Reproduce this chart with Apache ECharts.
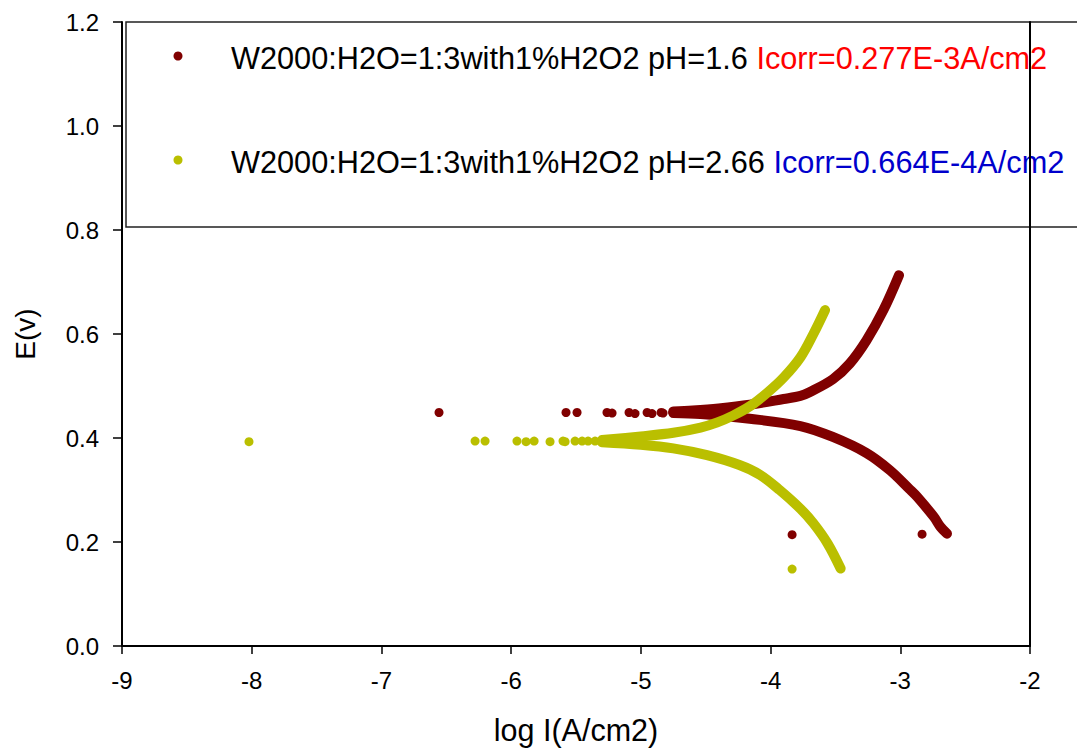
<!DOCTYPE html>
<html>
<head>
<meta charset="utf-8">
<script src="https://cdn.jsdelivr.net/npm/echarts@6/dist/echarts.min.js"></script>
<style>
html,body{margin:0;padding:0;background:#fff;overflow:hidden;}
#chart{width:1077px;height:749px;}
</style>
</head>
<body>
<div id="chart"></div>
<script>
// ---- text ----
const seriesLabels = ['W2000:H2O=1:3with1%H2O2 pH=1.6', 'W2000:H2O=1:3with1%H2O2 pH=2.66'];
const icorrLabels = ['Icorr=0.277E-3A/cm2', 'Icorr=0.664E-4A/cm2'];
const xTitle = 'log I(A/cm2)';
const yTitle = 'E(v)';
const xTicks = [-9, -8, -7, -6, -5, -4, -3, -2];
const yTicks = [0.0, 0.2, 0.4, 0.6, 0.8, 1.0, 1.2];

// ---- pH 1.6 (dark red) ----
const redSparse = [
  [-6.556, 0.449], [-5.577, 0.449], [-5.492, 0.449], [-5.261, 0.449], [-5.222, 0.448],
  [-5.091, 0.449], [-5.045, 0.447], [-4.952, 0.449], [-4.914, 0.447], [-4.844, 0.449],
  [-4.829, 0.448], [-4.752, 0.449], [-4.713, 0.449], [-4.675, 0.449],
  [-3.834, 0.214], [-2.832, 0.215]
];
const redAnodic = [
  [-4.75, 0.451], [-4.6, 0.453], [-4.4, 0.457], [-4.16, 0.464], [-3.9, 0.475],
  [-3.77, 0.481], [-3.7, 0.488], [-3.52, 0.513], [-3.39, 0.543], [-3.26, 0.588],
  [-3.13, 0.646], [-3.01, 0.713]
];
const redCathodic = [
  [-4.75, 0.448], [-4.54, 0.446], [-4.16, 0.437], [-3.77, 0.423], [-3.52, 0.402],
  [-3.26, 0.371], [-3.08, 0.338], [-2.93, 0.302], [-2.87, 0.287], [-2.74, 0.248],
  [-2.69, 0.229], [-2.64, 0.216]
];

// ---- pH 2.66 (yellow-green) ----
const ylwSparse = [
  [-8.021, 0.393], [-6.278, 0.394], [-6.201, 0.394], [-5.955, 0.394], [-5.885, 0.393],
  [-5.823, 0.394], [-5.700, 0.393], [-5.600, 0.394], [-5.584, 0.393], [-5.507, 0.394],
  [-5.453, 0.394], [-5.407, 0.394], [-5.353, 0.394],
  [-3.834, 0.148]
];
const ylwAnodic = [
  [-5.3, 0.396], [-5.0, 0.403], [-4.75, 0.410], [-4.54, 0.420], [-4.41, 0.430],
  [-4.29, 0.443], [-4.16, 0.461], [-4.03, 0.486], [-3.9, 0.516], [-3.77, 0.555],
  [-3.67, 0.600], [-3.58, 0.646]
];
const ylwCathodic = [
  [-5.3, 0.392], [-5.0, 0.387], [-4.75, 0.380], [-4.49, 0.367], [-4.24, 0.348],
  [-4.08, 0.329], [-3.93, 0.300], [-3.77, 0.264], [-3.67, 0.236], [-3.56, 0.197],
  [-3.46, 0.149]
];

const RED = '#800000';
const YLW = '#BABF00';
const FONT = '"Liberation Sans", Arial, Helvetica, sans-serif';

function curve(data, color) {
  return {
    type: 'line', data: data, showSymbol: false, symbol: 'none', smooth: 0.35,
    lineStyle: { color: color, width: 10, cap: 'round', join: 'round', opacity: 1 },
    itemStyle: { color: color }, silent: true
  };
}
function dots(data, color) {
  return {
    type: 'scatter', data: data, symbol: 'circle', symbolSize: 9,
    itemStyle: { color: color, opacity: 1 }, silent: true
  };
}

const chart = echarts.init(document.getElementById('chart'), null,
  { renderer: 'svg', width: 1077, height: 749 });
chart.setOption({
  animation: false,
  backgroundColor: '#ffffff',
  grid: { left: 122, right: 47, top: 22, bottom: 103, containLabel: false,
          outerBoundsMode: 'none' },
  xAxis: {
    type: 'value', min: xTicks[0], max: xTicks[xTicks.length - 1], interval: 1,
    name: xTitle, nameLocation: 'middle', nameGap: 68,
    nameTextStyle: { fontSize: 30.5, color: '#000', fontFamily: FONT },
    axisLine: { show: true, onZero: false, lineStyle: { color: '#000', width: 2 } },
    axisTick: { show: true, inside: false, length: 8, lineStyle: { color: '#000', width: 1.5 } },
    axisLabel: { fontSize: 24, color: '#000', fontFamily: FONT, margin: 22,
      formatter: v => String(v) },
    splitLine: { show: false }
  },
  yAxis: [{
    type: 'value', min: yTicks[0], max: yTicks[yTicks.length - 1], interval: 0.2,
    name: yTitle, nameLocation: 'middle', nameGap: 83, nameRotate: 90,
    nameTextStyle: { fontSize: 28, color: '#000', fontFamily: FONT },
    axisLine: { show: true, onZero: false, lineStyle: { color: '#000', width: 2 } },
    axisTick: { show: true, inside: false, length: 9, lineStyle: { color: '#000', width: 1.5 } },
    axisLabel: { fontSize: 24, color: '#000', fontFamily: FONT, margin: 23,
      formatter: v => v.toFixed(1) },
    splitLine: { show: false }
  }, {
    type: 'value', position: 'right', min: 0, max: 1.2, interval: 0.2,
    axisLine: { show: true, onZero: false, lineStyle: { color: '#000', width: 2 } },
    axisTick: { show: false }, axisLabel: { show: false }, splitLine: { show: false }
  }],
  series: [
    curve(redCathodic, RED), curve(redAnodic, RED), dots(redSparse, RED),
    curve(ylwCathodic, YLW), curve(ylwAnodic, YLW), dots(ylwSparse, YLW)
  ],
  graphic: [{
    type: 'group', z: 100,
    children: [
      { type: 'rect', shape: { x: 126, y: 22, width: 1000, height: 205 },
        style: { fill: '#fff', stroke: '#222', lineWidth: 1.5 } },
      { type: 'circle', shape: { cx: 178, cy: 56, r: 4.5 }, style: { fill: RED } },
      { type: 'circle', shape: { cx: 178, cy: 160, r: 4.5 }, style: { fill: YLW } },
      { type: 'text', x: 231, y: 58, style: {
          text: '{a|' + seriesLabels[0] + ' }{b|' + icorrLabels[0] + '}',
          font: '30.7px ' + FONT, verticalAlign: 'middle', align: 'left',
          rich: { a: { fill: '#000', fontSize: 30.7, fontFamily: FONT },
                  b: { fill: '#FF0000', fontSize: 30.7, fontFamily: FONT } } } },
      { type: 'text', x: 231, y: 162, style: {
          text: '{a|' + seriesLabels[1] + ' }{b|' + icorrLabels[1] + '}',
          font: '30.7px ' + FONT, verticalAlign: 'middle', align: 'left',
          rich: { a: { fill: '#000', fontSize: 30.7, fontFamily: FONT },
                  b: { fill: '#0000CC', fontSize: 30.7, fontFamily: FONT } } } }
    ]
  }]
});
</script>
</body>
</html>
